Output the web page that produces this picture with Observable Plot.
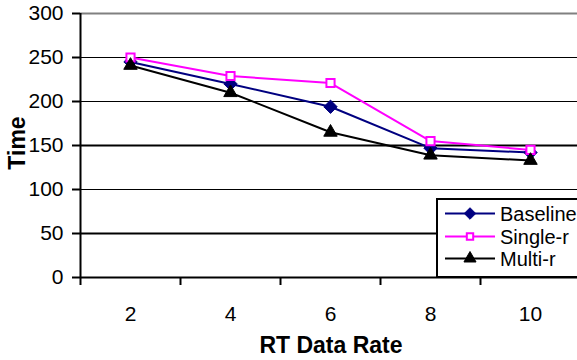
<!DOCTYPE html>
<html>
<head>
<meta charset="utf-8">
<script src="https://cdn.jsdelivr.net/npm/d3@7"></script>
<script src="https://cdn.jsdelivr.net/npm/@observablehq/plot@0.6"></script>
<style>
  html, body { margin: 0; padding: 0; background: white; overflow: hidden; }
  #chart { width: 577px; height: 360px; overflow: hidden; }
</style>
</head>
<body>
<div id="chart"></div>
<script>
// ---- data ----
const rates = [2, 4, 6, 8, 10];
const baseline = [245, 220, 194, 147, 142];
const singleR = [250, 229, 221, 155, 145];
const multiR = [241, 210, 165, 139, 133];
const seriesNames = ["Baseline", "Single-r", "Multi-r"];
const seriesColors = ["#000080", "#FF00FF", "#000000"];
const yTicks = [0, 50, 100, 150, 200, 250, 300];
const xCategoryEdges = [1, 3, 5, 7, 9];
const xLabel = "RT Data Rate";
const yLabel = "Time";

const seriesValues = [baseline, singleR, multiR];
const rows = seriesNames.map((name, i) => rates.map((r, j) => ({series: name, rate: r, value: seriesValues[i][j]})));

const font = "'Liberation Sans', Arial, sans-serif";

const plot = Plot.plot({
  width: 577,
  height: 360,
  marginLeft: 80,
  marginTop: 13,
  marginBottom: 83,
  marginRight: 0,
  x: {domain: [1, 11], range: [80, 580]},
  y: {domain: [0, 300]},
  style: {fontFamily: font, fontSize: "21px", color: "black", background: "white", overflow: "hidden"},
  marks: [
    Plot.ruleY([100, 200, 250], {stroke: "black", strokeWidth: 1}),
    Plot.ruleY([50, 150], {stroke: "black", strokeWidth: 2}),
    Plot.ruleY([300], {stroke: "#808080", strokeWidth: 2}),
    Plot.ruleY([0], {stroke: "black", strokeWidth: 2}),
    Plot.ruleX([1], {stroke: "black", strokeWidth: 2}),
    Plot.axisY({ticks: yTicks, tickSize: 8, tickPadding: 9, label: null, strokeWidth: 2, fontSize: 21, stroke: "black"}),
    Plot.axisX({ticks: xCategoryEdges, tickSize: 8, tickFormat: () => "", label: null, strokeWidth: 2, stroke: "black"}),
    Plot.axisX({ticks: rates, tickSize: 0, tickPadding: 29, label: null, fontSize: 21}),
    // Baseline
    Plot.line(rows[0], {x: "rate", y: "value", stroke: seriesColors[0], strokeWidth: 2}),
    Plot.dot(rows[0], {x: "rate", y: "value", symbol: "diamond2", r: 6, fill: seriesColors[0], stroke: seriesColors[0], strokeWidth: 1}),
    // Single-r
    Plot.line(rows[1], {x: "rate", y: "value", stroke: seriesColors[1], strokeWidth: 2}),
    Plot.dot(rows[1], {x: "rate", y: "value", symbol: "square", r: 4.6, fill: "white", stroke: seriesColors[1], strokeWidth: 2}),
    // Multi-r
    Plot.line(rows[2], {x: "rate", y: "value", stroke: seriesColors[2], strokeWidth: 2}),
    Plot.dot(rows[2], {x: "rate", y: "value", symbol: "triangle", r: 5, fill: seriesColors[2], stroke: seriesColors[2], strokeWidth: 1})
  ]
});

document.getElementById("chart").appendChild(plot);

// ---- axis titles and legend ----
const svg = d3.select(plot);

svg.append("text")
  .attr("x", 331).attr("y", 353)
  .attr("text-anchor", "middle")
  .attr("font-family", font).attr("font-weight", "bold").attr("font-size", 23)
  .attr("fill", "black")
  .text(xLabel);

svg.append("text")
  .attr("transform", "translate(25,143) rotate(-90)")
  .attr("text-anchor", "middle")
  .attr("font-family", font).attr("font-weight", "bold").attr("font-size", 23)
  .attr("fill", "black")
  .text(yLabel);

const lg = svg.append("g").attr("text-anchor", "start");
lg.append("rect")
  .attr("x", 437).attr("y", 199).attr("width", 160).attr("height", 78)
  .attr("fill", "white").attr("stroke", "black").attr("stroke-width", 2);

const symbols = [d3.symbolDiamond2, d3.symbolSquare, d3.symbolTriangle];
const sizes = [Math.PI * 5.2 * 5.2, Math.PI * 3.6 * 3.6, Math.PI * 4.5 * 4.5];
const entryY = [213.5, 236.5, 258.5];
seriesNames.forEach((name, i) => {
  const y = entryY[i];
  lg.append("line").attr("x1", 445).attr("x2", 495).attr("y1", y).attr("y2", y)
    .attr("stroke", seriesColors[i]).attr("stroke-width", 2);
  lg.append("path")
    .attr("d", d3.symbol(symbols[i], sizes[i])())
    .attr("transform", `translate(470,${y})`)
    .attr("fill", i === 1 ? "white" : seriesColors[i])
    .attr("stroke", seriesColors[i]).attr("stroke-width", i === 1 ? 2 : 1);
  lg.append("text")
    .attr("x", 500).attr("y", y).attr("dy", "0.35em")
    .attr("text-anchor", "start")
    .attr("font-family", font).attr("font-size", 20).attr("fill", "black")
    .text(name);
});
</script>
</body>
</html>
